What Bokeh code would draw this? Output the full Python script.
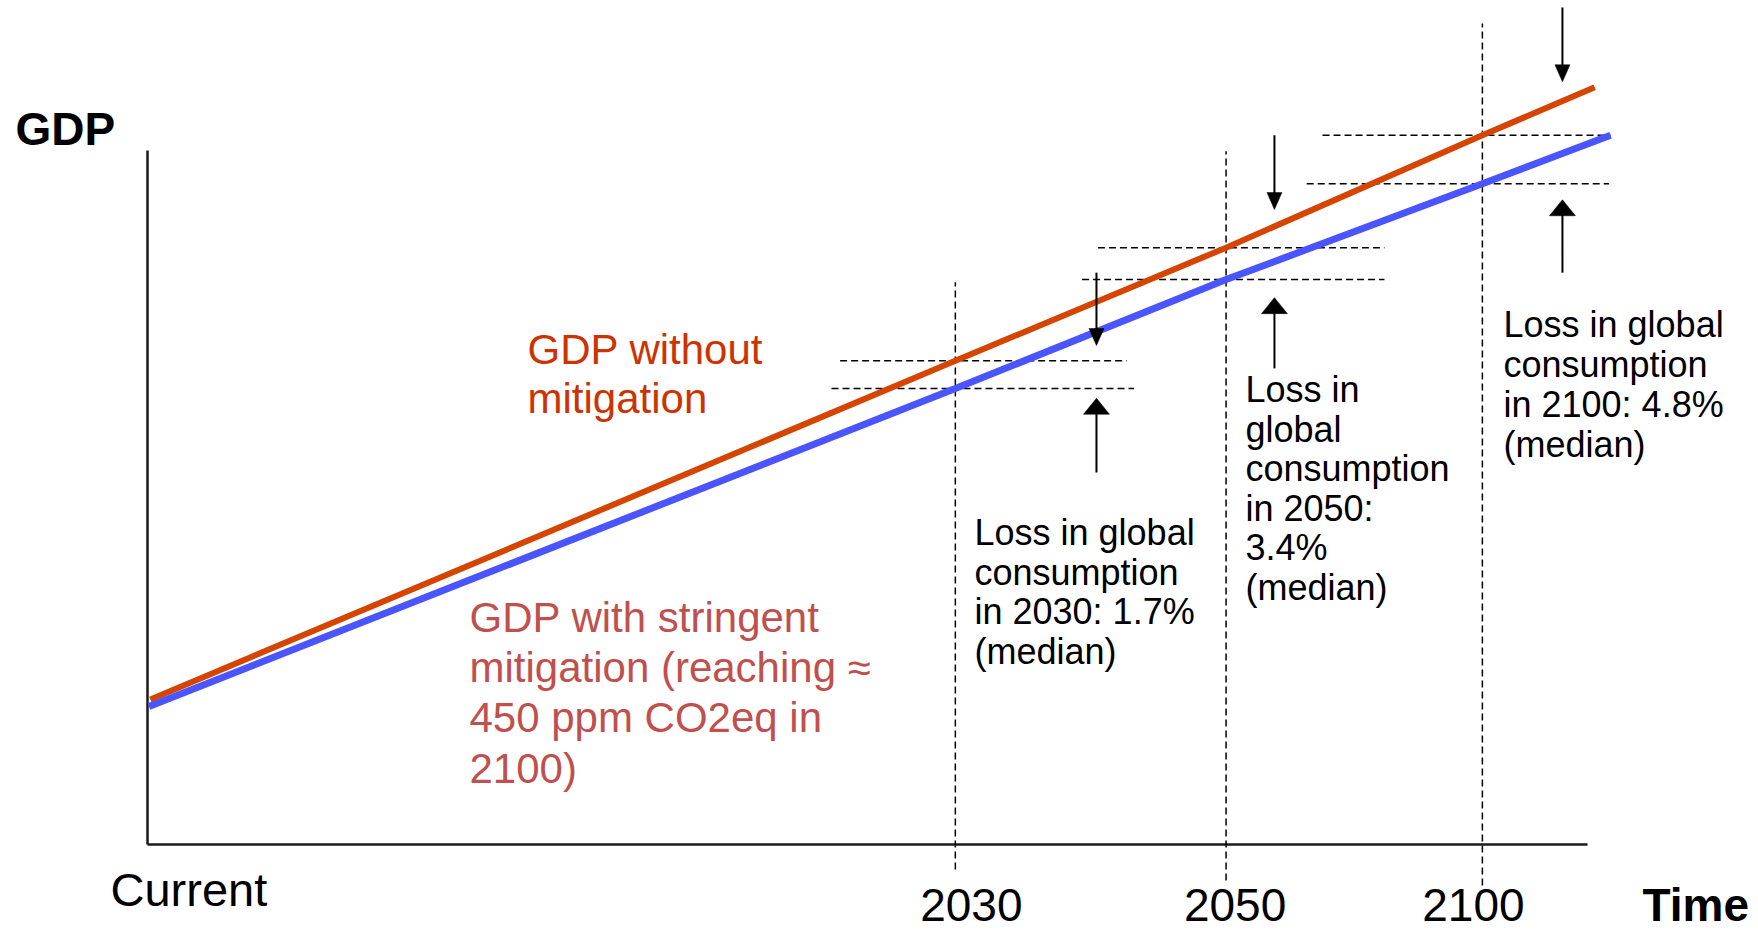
import numpy as np
from bokeh.plotting import figure
from bokeh.models import Range1d
from bokeh.core.properties import value
from bokeh.embed import file_html
from bokeh.resources import INLINE

# ---------------- data (schematic units: time position 0..100, GDP index 0..100)
year_labels = ["2030", "2050", "2100"]
year_pos = [56.1, 74.9, 92.7]

no_mit_t = [0.2, 56.1, 74.9, 92.7, 100.5]
no_mit_gdp = [20.9, 69.7, 86.0, 102.2, 109.1]

mit_t = [0.1, 56.1, 74.9, 92.7, 101.6]
mit_gdp = [19.9, 65.7, 81.4, 95.2, 102.2]

loss_texts = [
    ["Loss in global", "consumption", "in 2030: 1.7%", "(median)"],
    ["Loss in", "global", "consumption", "in 2050:", "3.4%", "(median)"],
    ["Loss in global", "consumption", "in 2100: 4.8%", "(median)"],
]
no_mit_label = ["GDP without", "mitigation"]
mit_label = ["GDP with stringent", "mitigation (reaching \u2248", "450 ppm CO2eq in", "2100)"]

# ---------------- layout
W, H = 1758, 932
X0, Y0 = 147.0, 844.0      # px of the axis origin
PX, PY = 14.4, 6.94        # px per data unit
BASE_FIX = 0.36            # em shift so that the glyph baseline sits at the wanted px
def tx(px_x): return (px_x - X0) / PX
def vy(px_y): return (Y0 - px_y) / PY

p = figure(width=W, height=H,
           x_range=Range1d(tx(0), tx(W)), y_range=Range1d(vy(H), vy(0)),
           output_backend="svg", toolbar_location=None,
           x_axis_type=None, y_axis_type=None, min_border=0,
           outline_line_color=None, background_fill_color="white")

FONT = value("Liberation Sans")
ORANGE = "#D64500"
ORANGE_TXT = "#CC3300"
BLUE = "#4A55FF"
RED_TXT = "#C0504D"

# axes (drawn as lines)
p.line([0, 100], [0, 0], line_color="#1a1a1a", line_width=2.5)
p.line([0, 0], [0, 100], line_color="#1a1a1a", line_width=2.5)

# guide dashed lines
v_top = [81.0, 99.9, 118.3]
v_bot = [-3.6, -5.2, -5.9]
p.segment(x0=year_pos, y0=v_bot, x1=year_pos, y1=v_top,
          line_color="black", line_width=1.5, line_dash="7 4")
up_level = np.interp(year_pos, no_mit_t, no_mit_gdp)
lo_level = np.interp(year_pos, mit_t, mit_gdp)
hl_up = [-8.0, -8.9, -11.1]; hr_up = [11.9, 11.0, 8.9]
hl_lo = [-8.6, -10.0, -12.2]; hr_lo = [12.4, 11.0, 8.8]
xp = np.array(year_pos)
p.segment(x0=xp + hl_up, y0=up_level, x1=xp + hr_up, y1=up_level,
          line_color="black", line_width=1.5, line_dash="7 4")
p.segment(x0=xp + hl_lo, y0=lo_level, x1=xp + hr_lo, y1=lo_level,
          line_color="black", line_width=1.5, line_dash="7 4")

# series
p.line(no_mit_t, no_mit_gdp, line_color=ORANGE, line_width=6)
p.line(mit_t, mit_gdp, line_color=BLUE, line_width=7)

# arrows
arrow_x = [65.9, 78.26, 98.26]
down_tail = [82.4, 102.2, 120.6]; down_tip = [71.9, 91.5, 109.9]
up_tail = [53.6, 68.6, 82.4]; up_tip = [64.3, 78.8, 92.9]
def heads(xs, tips, w_px, h_px, direction):
    xs_l, ys_l = [], []
    for x, t in zip(xs, tips):
        base = t + direction * h_px / PY
        xs_l.append([x - w_px / 2 / PX, x + w_px / 2 / PX, x])
        ys_l.append([base, base, t])
    return xs_l, ys_l
dx, dy = heads(arrow_x, down_tip, 15, 17, 1)
ux, uy = heads(arrow_x, up_tip, 26, 16, -1)
p.segment(x0=arrow_x, y0=down_tail, x1=arrow_x, y1=[t + 15 / PY for t in down_tip],
          line_color="black", line_width=2)
p.segment(x0=arrow_x, y0=up_tail, x1=arrow_x, y1=[t - 15 / PY for t in up_tip],
          line_color="black", line_width=2)
p.patches(dx, dy, fill_color="black", line_color="black", line_width=0.5)
p.patches(ux, uy, fill_color="black", line_color="black", line_width=0.5)

# texts
def block(lines, px_x, px_y0, spacing, size, color, style="normal", align="left"):
    ys = [vy(px_y0 + i * spacing - BASE_FIX * size) for i in range(len(lines))]
    p.text(x=[tx(px_x)] * len(lines), y=ys, text=lines, text_font=FONT,
           text_font_size=f"{size}px", text_color=color, text_font_style=style,
           text_align=align, text_baseline="alphabetic")

block(["GDP"], 15, 145, 0, 46, "black", "bold")
block(["Time"], 1642, 921, 0, 46, "black", "bold")
block(["Current"], 110, 906, 0, 47, "black")
tick_off = [16 / PX, 9 / PX, -9 / PX]
p.text(x=[x + o for x, o in zip(year_pos, tick_off)], y=[vy(921 - BASE_FIX * 46)] * 3,
       text=year_labels, text_font=FONT, text_font_size="46px", text_color="black",
       text_align="center", text_baseline="alphabetic")

block(no_mit_label, 527, 364, 49, 42, ORANGE_TXT)
block(mit_label, 469, 632, 50.3, 42, RED_TXT)
block(loss_texts[0], 974, 545, 39.5, 36, "black")
block(loss_texts[1], 1245, 402, 39.6, 36, "black")
block(loss_texts[2], 1503, 337, 40, 36, "black")

open("out.html", "w").write(file_html(p, INLINE))
